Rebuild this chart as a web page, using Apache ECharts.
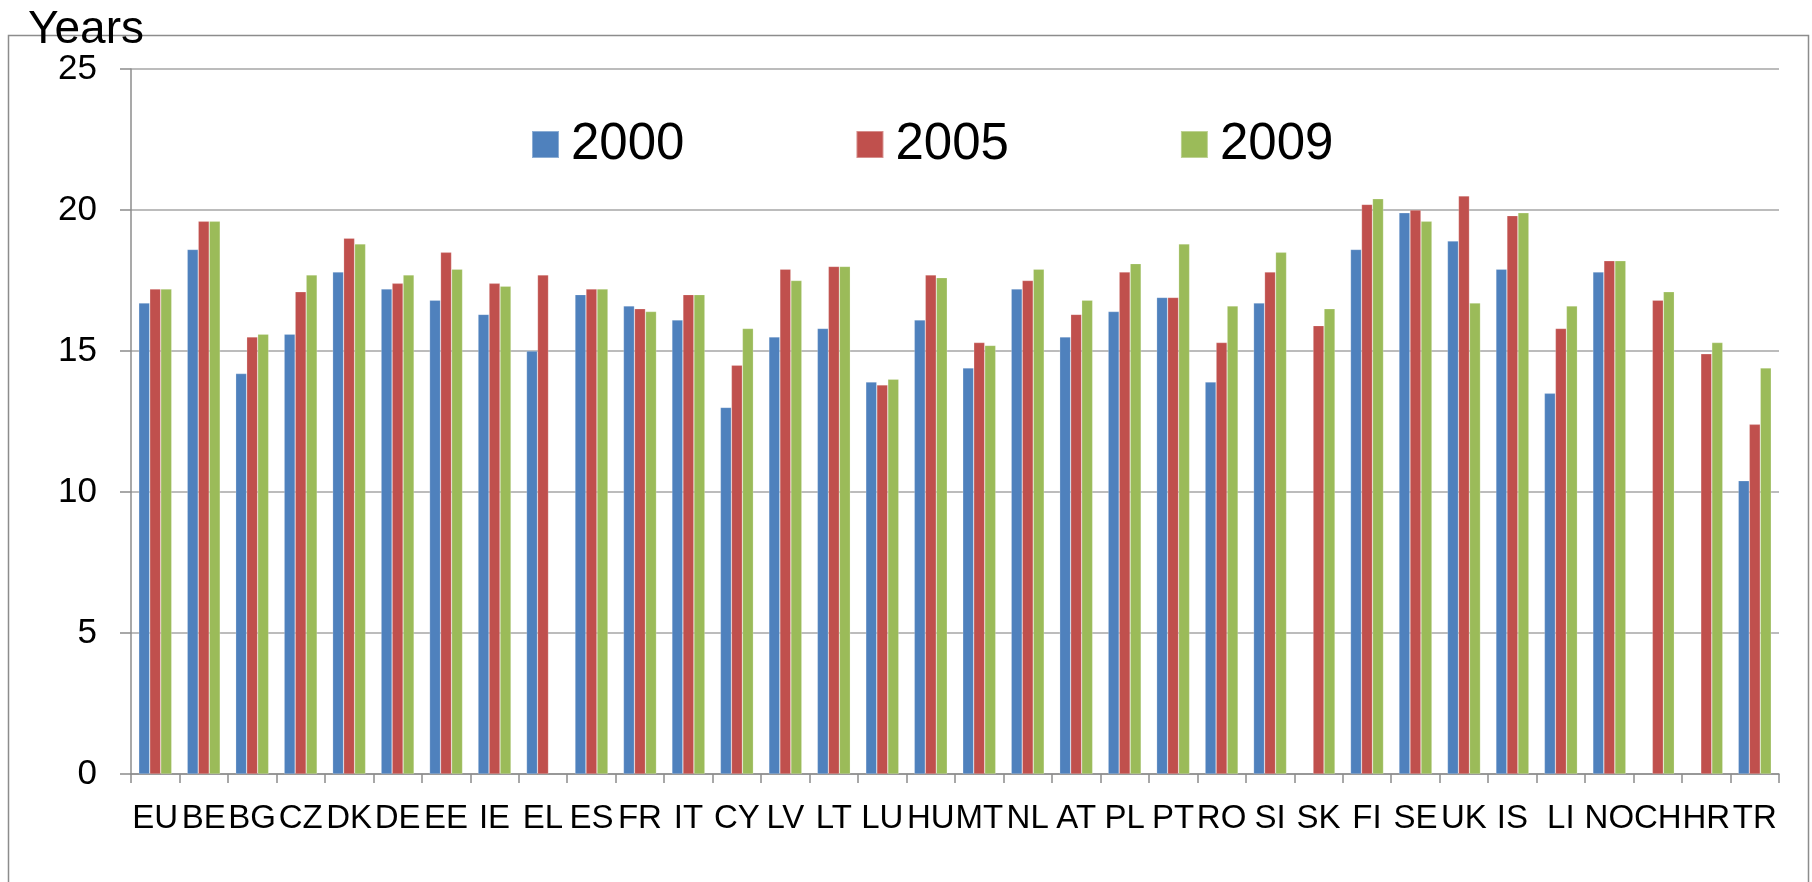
<!DOCTYPE html>
<html>
<head>
<meta charset="utf-8">
<script src="https://cdn.jsdelivr.net/npm/echarts@6/dist/echarts.min.js"></script>
<style>
  html, body { margin: 0; padding: 0; background: #fff; }
  #chart { width: 1812px; height: 882px; }
</style>
</head>
<body>
<div id="chart"></div>
<script>
const countries = ['EU','BE','BG','CZ','DK','DE','EE','IE','EL','ES','FR','IT','CY','LV','LT','LU','HU','MT','NL','AT','PL','PT','RO','SI','SK','FI','SE','UK','IS','LI','NO','CH','HR','TR'];
const y2000 = [16.7,18.6,14.2,15.6,17.8,17.2,16.8,16.3,15.0,17.0,16.6,16.1,13.0,15.5,15.8,13.9,16.1,14.4,17.2,15.5,16.4,16.9,13.9,16.7,null,18.6,19.9,18.9,17.9,13.5,17.8,null,null,10.4];
const y2005 = [17.2,19.6,15.5,17.1,19.0,17.4,18.5,17.4,17.7,17.2,16.5,17.0,14.5,17.9,18.0,13.8,17.7,15.3,17.5,16.3,17.8,16.9,15.3,17.8,15.9,20.2,20.0,20.5,19.8,15.8,18.2,16.8,14.9,12.4];
const y2009 = [17.2,19.6,15.6,17.7,18.8,17.7,17.9,17.3,null,17.2,16.4,17.0,15.8,17.5,18.0,14.0,17.6,15.2,17.9,16.8,18.1,18.8,16.6,18.5,16.5,20.4,19.6,16.7,19.9,16.6,18.2,17.1,15.3,14.4];
const yTicks = { min: 0, max: 25, interval: 5 };

const font = '"Liberation Sans", Arial, sans-serif';
const chart = echarts.init(document.getElementById('chart'));

function bar(name, data, color) {
  return {
    name: name,
    type: 'bar',
    data: data,
    barWidth: 11,
    barGap: '0%',
    itemStyle: { color: color, borderColor: 'rgba(255,255,255,0.35)', borderWidth: 0.6 }
  };
}

chart.setOption({
  animation: false,
  textStyle: { fontFamily: font },
  graphic: [
    {
      type: 'rect',
      shape: { x: 8.5, y: 35.5, width: 1800, height: 900 },
      style: { fill: 'none', stroke: '#8c8c8c', lineWidth: 1.5 },
      z: 0
    },
    {
      type: 'text',
      style: { x: 28, y: 30, text: 'Years', font: '46px ' + font, fill: '#000', verticalAlign: 'middle' },
      z: 10
    }
  ],
  legend: {
    left: 531,
    top: 119,
    padding: 0,
    icon: 'rect',
    itemWidth: 27,
    itemHeight: 27,
    itemGap: 171,
    textStyle: { fontSize: 51, lineHeight: 51, color: '#000', fontFamily: font, padding: [0, 0, 0, 7] },
    data: ['2000', '2005', '2009']
  },
  grid: { left: 131, right: 33, top: 69, bottom: 108, containLabel: false },
  xAxis: {
    type: 'category',
    data: countries,
    axisLine: { lineStyle: { color: '#8c8c8c', width: 1.5 } },
    axisTick: { show: true, length: 9, lineStyle: { color: '#8c8c8c', width: 1.5 } },
    axisLabel: { fontSize: 33, color: '#000', margin: 28, interval: 0, fontFamily: font }
  },
  yAxis: {
    type: 'value',
    min: yTicks.min,
    max: yTicks.max,
    interval: yTicks.interval,
    axisLine: { show: true, lineStyle: { color: '#8c8c8c', width: 1.5 } },
    axisTick: { show: true, length: 11, lineStyle: { color: '#8c8c8c', width: 1.5 } },
    axisLabel: { fontSize: 35, color: '#000', margin: 34, fontFamily: font },
    splitLine: { lineStyle: { color: '#a6a6a6', width: 1.5 } }
  },
  series: [
    bar('2000', y2000, '#4F81BD'),
    bar('2005', y2005, '#C0504D'),
    bar('2009', y2009, '#9BBB59')
  ]
});
</script>
</body>
</html>
